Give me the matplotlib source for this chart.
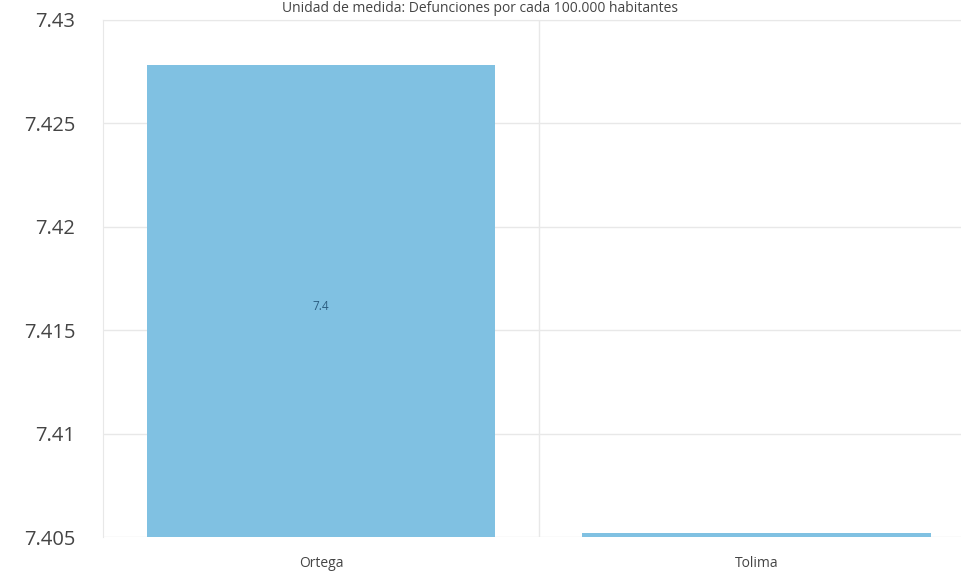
import matplotlib
matplotlib.use("Agg")
import matplotlib.pyplot as plt

categorias = ["Ortega", "Tolima"]
valores = [7.4278, 7.4052]
etiquetas = ["7.4", ""]
y_ticks = [7.405, 7.41, 7.415, 7.42, 7.425, 7.43]
y_labels = ["7.405", "7.41", "7.415", "7.42", "7.425", "7.43"]

plt.rcParams["font.family"] = ["Open Sans", "DejaVu Sans"]

fig = plt.figure(figsize=(9.61, 5.76), dpi=100)
ax = fig.add_axes([0.1072, 0.0677, 0.907, 0.8976])

x = list(range(len(categorias)))
bars = ax.bar(x, [v - 7.405 for v in valores], bottom=7.405, width=0.8,
              color="#80c1e2", zorder=3)
ax.bar_label(bars, labels=etiquetas, label_type="center", color="#2b5d80",
             fontsize=8.5, padding=-4)

ax.set_ylim(7.405, 7.43)
ax.set_xlim(-0.5, 1.5)
ax.set_yticks(y_ticks)
ax.set_yticklabels(y_labels, fontsize=14.5, color="#444444")
ax.set_xticks(x)
ax.set_xticklabels(categorias, fontsize=10, color="#444444")
ax.tick_params(axis="both", length=0)
ax.tick_params(axis="y", pad=20)
ax.tick_params(axis="x", pad=14)

ax.grid(axis="y", color="#e8e8e8", linewidth=1, zorder=0)
ax.axvline(0.5, color="#e8e8e8", linewidth=1, zorder=0)
for s in ["right", "bottom"]:
    ax.spines[s].set_visible(False)
for s in ["top", "left"]:
    ax.spines[s].set_color("#e8e8e8")

# titulo
fig.text(0.5, 0.986, "Unidad de medida: Defunciones por cada 100.000 habitantes",
         ha="center", va="center", fontsize=10, color="#444444")

fig.savefig("out.png", dpi=100)
